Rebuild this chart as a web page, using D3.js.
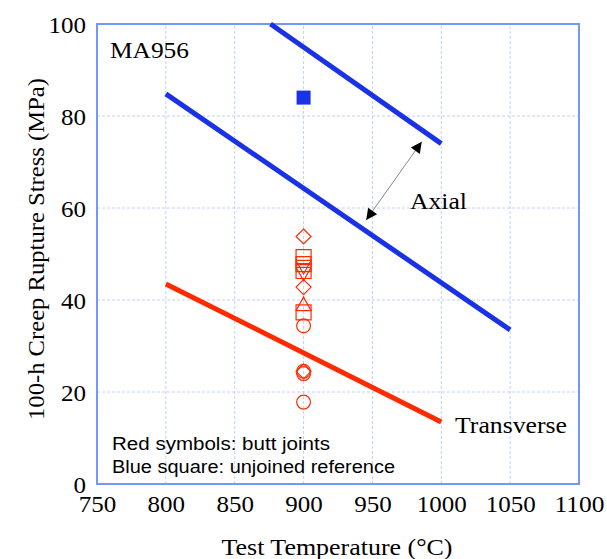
<!DOCTYPE html>
<html>
<head>
<meta charset="utf-8">
<script src="https://cdn.jsdelivr.net/npm/d3@7"></script>
<style>
  body { margin: 0; background: #fff; }
  svg { display: block; }
</style>
</head>
<body>
<svg id="chart"></svg>
<script>
    'use strict';

    // data
    var xTicks = [750, 800, 850, 900, 950, 1000, 1050, 1100];
    var yTicks = [0, 20, 40, 60, 80, 100];
    var axialUpper = [[876, 100], [1000, 74]];
    var axialLower = [[800, 84.8], [1050, 33.5]];
    var transverse = [[800, 43.5], [1000, 13.5]];
    var refTemp = [900];
    var refStress = [84];
    var jointTemp = 900;
    var jointShapes = ['diamond', 'square', 'square', 'square', 'tridown', 'tridown', 'diamond', 'triangle', 'square', 'circle', 'diamond', 'circle', 'circle', 'circle'];
    var jointStress = [53.8, 49.3, 47.8, 46.3, 47.3, 45.8, 42.8, 39, 37.3, 34.4, 24.5, 24.5, 24, 17.8];
    var arrowEnds = [[945.5, 57.4], [985.8, 74.4]];

    var width = 607, height = 559;
    var margin = {left: 97, top: 24, right: 28, bottom: 75};
    var blue = '#1a32e6';
    var red = '#ff2a00';
    var serif = '"Liberation Serif", "Times New Roman", serif';
    var sans = '"Liberation Sans", Arial, sans-serif';

    var svg = d3.select('#chart')
        .attr('width', width)
        .attr('height', height);

    var x = d3.scaleLinear().domain([750, 1100]).range([margin.left, width - margin.right]);
    var y = d3.scaleLinear().domain([0, 100]).range([height - margin.bottom, margin.top]);

    var defs = svg.append('defs');
    defs.append('marker')
        .attr('id', 'head')
        .attr('viewBox', '0 0 10 10')
        .attr('refX', 10).attr('refY', 5)
        .attr('markerWidth', 17).attr('markerHeight', 11)
        .attr('markerUnits', 'userSpaceOnUse')
        .attr('orient', 'auto-start-reverse')
        .append('path')
        .attr('d', 'M0,0 L10,5 L0,10 Z')
        .attr('fill', '#000');

    // grid
    svg.append('g').selectAll('line')
        .data(xTicks.slice(1, -1))
        .enter().append('line')
        .attr('x1', function (d) { return x(d); })
        .attr('x2', function (d) { return x(d); })
        .attr('y1', y(0)).attr('y2', y(100))
        .attr('stroke', '#c2d0fa').attr('stroke-width', 1)
        .attr('stroke-dasharray', '3,2');

    svg.append('g').selectAll('line')
        .data(yTicks.slice(1, -1))
        .enter().append('line')
        .attr('y1', function (d) { return y(d); })
        .attr('y2', function (d) { return y(d); })
        .attr('x1', x(750)).attr('x2', x(1100))
        .attr('stroke', '#c2d0fa').attr('stroke-width', 1)
        .attr('stroke-dasharray', '3,2');

    // axes
    var xAxis = svg.append('g')
        .attr('transform', 'translate(0,' + y(0) + ')')
        .call(d3.axisBottom(x).tickValues(xTicks).tickFormat(d3.format('d')).tickSize(0).tickPadding(10));
    var yAxis = svg.append('g')
        .attr('transform', 'translate(' + x(750) + ',0)')
        .call(d3.axisLeft(y).tickValues(yTicks).tickFormat(d3.format('d')).tickSize(0).tickPadding(11));

    [xAxis, yAxis].forEach(function (a) {
        a.select('.domain').remove();
        a.selectAll('text')
            .attr('font-family', serif)
            .attr('font-size', 23)
            .attr('fill', '#000')
            .attr('textLength', function (d) { return String(d).length * 12.5; })
            .attr('lengthAdjust', 'spacingAndGlyphs');
    });
    xAxis.selectAll('text').attr('dy', '0.78em');
    yAxis.selectAll('text').attr('dy', '0.35em');

    // frame
    svg.append('rect')
        .attr('x', x(750)).attr('y', y(100))
        .attr('width', x(1100) - x(750))
        .attr('height', y(0) - y(100))
        .attr('fill', 'none')
        .attr('stroke', '#7496ff')
        .attr('stroke-width', 2);

    var line = d3.line()
        .x(function (d) { return x(d[0]); })
        .y(function (d) { return y(d[1]); });

    [[axialUpper, blue], [axialLower, blue], [transverse, red]].forEach(function (s) {
        svg.append('path')
            .datum(s[0])
            .attr('d', line)
            .attr('fill', 'none')
            .attr('stroke', s[1])
            .attr('stroke-width', 5);
    });

    // red joint symbols (outlined)
    var shapePath = {
        diamond: 'M0,-7.5L7.5,0L0,7.5L-7.5,0Z',
        square: 'M-7.5,-7.5H7.5V7.5H-7.5Z',
        triangle: 'M0,-7.5L7.5,6L-7.5,6Z',
        tridown: 'M0,7.5L7.5,-6L-7.5,-6Z',
        circle: d3.symbol().type(d3.symbolCircle).size(150)()
    };

    svg.append('g').selectAll('path')
        .data(jointStress)
        .enter().append('path')
        .attr('d', function (d, i) { return shapePath[jointShapes[i]]; })
        .attr('transform', function (d) {
            return 'translate(' + x(jointTemp) + ',' + y(d) + ')';
        })
        .attr('fill', 'none')
        .attr('stroke', red)
        .attr('stroke-width', 1.2);

    // blue reference square
    svg.append('g').selectAll('rect')
        .data(refStress)
        .enter().append('rect')
        .attr('x', function (d, i) { return x(refTemp[i]) - 7; })
        .attr('y', function (d) { return y(d) - 7; })
        .attr('width', 14).attr('height', 14)
        .attr('fill', blue);

    // arrow between the axial lines
    svg.append('line')
        .attr('x1', x(arrowEnds[0][0])).attr('y1', y(arrowEnds[0][1]))
        .attr('x2', x(arrowEnds[1][0])).attr('y2', y(arrowEnds[1][1]))
        .attr('stroke', '#888').attr('stroke-width', 1)
        .attr('marker-start', 'url(#head)')
        .attr('marker-end', 'url(#head)');

    function label(txt, px, py, size, len, family) {
        return svg.append('text')
            .attr('x', px).attr('y', py)
            .attr('font-family', family || serif)
            .attr('font-size', size)
            .attr('fill', '#000')
            .attr('textLength', len)
            .attr('lengthAdjust', 'spacingAndGlyphs')
            .text(txt);
    }

    label('MA956', 110, 58, 23, 79);
    label('Axial', 410, 209, 23, 57);
    label('Transverse', 455, 433, 23, 112);
    label('Red symbols: butt joints', 112, 450, 17.5, 218, sans);
    label('Blue square: unjoined reference', 112, 473, 17.5, 283, sans);

    label('Test Temperature (\u00B0C)', 337, 555, 23, 231)
        .attr('text-anchor', 'middle');
    label('100-h Creep Rupture Stress (MPa)', 0, 0, 23, 342)
        .attr('text-anchor', 'middle')
        .attr('transform', 'translate(44,249) rotate(-90)');
</script>
</body>
</html>
